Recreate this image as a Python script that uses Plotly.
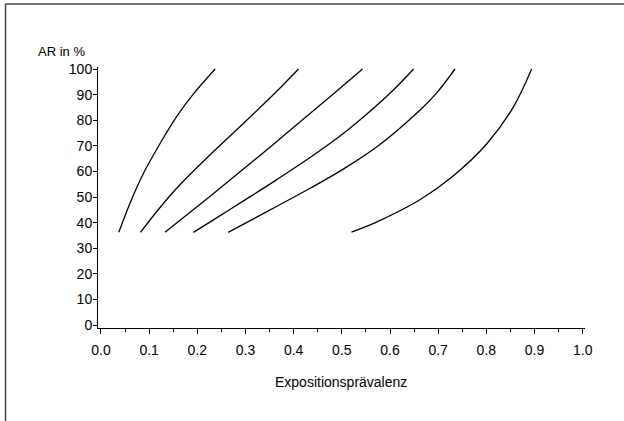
import plotly.graph_objects as go

# ---- data ----
x_tick_values = [0.0, 0.1, 0.2, 0.3, 0.4, 0.5, 0.6, 0.7, 0.8, 0.9, 1.0]
x_tick_labels = ["0.0", "0.1", "0.2", "0.3", "0.4", "0.5", "0.6", "0.7", "0.8", "0.9", "1.0"]
y_tick_values = [0, 10, 20, 30, 40, 50, 60, 70, 80, 90, 100]
y_tick_labels = ["0", "10", "20", "30", "40", "50", "60", "70", "80", "90", "100"]

curve1_x = [0.037, 0.060, 0.088, 0.123, 0.157, 0.192, 0.226, 0.237]
curve1_y = [36.2, 47.5, 59.2, 71.0, 81.4, 90.3, 97.7, 100.0]

curve2_x = [0.082, 0.123, 0.160, 0.226, 0.295, 0.365, 0.410]
curve2_y = [36.2, 46.0, 54.0, 66.4, 78.6, 91.3, 100.0]

curve3_x = [0.133, 0.226, 0.295, 0.365, 0.434, 0.489, 0.543]
curve3_y = [36.2, 50.2, 60.8, 71.7, 82.6, 91.3, 100.0]

curve4_x = [0.192, 0.226, 0.295, 0.365, 0.434, 0.503, 0.552, 0.607, 0.649]
curve4_y = [36.2, 40.2, 48.4, 56.8, 65.4, 74.8, 82.4, 91.8, 100.0]

curve5_x = [0.264, 0.330, 0.434, 0.503, 0.572, 0.662, 0.697, 0.735]
curve5_y = [36.2, 42.8, 53.4, 60.9, 69.5, 83.9, 90.7, 100.0]

curve6_x = [0.520, 0.572, 0.662, 0.731, 0.801, 0.856, 0.894]
curve6_y = [36.3, 40.2, 48.9, 58.2, 70.8, 85.1, 100.0]

y_title = "AR in %"
x_title = "Expositionsprävalenz"

curves = [(curve1_x, curve1_y), (curve2_x, curve2_y), (curve3_x, curve3_y),
          (curve4_x, curve4_y), (curve5_x, curve5_y), (curve6_x, curve6_y)]

# ---- layout geometry (pixels) ----
W, H = 624, 421
ML, MR, MT, MB = 98, 39, 67, 93
PW, PH = W - ML - MR, H - MT - MB


def px_x(px):
    return (px - ML) / PW


def px_y(py):
    return (H - MB - py) / PH


FONT = "Liberation Sans, Arial, Helvetica, sans-serif"

fig = go.Figure()
for cx, cy in curves:
    fig.add_trace(go.Scatter(x=cx, y=cy, mode="lines",
                             line=dict(color="black", width=1.3, shape="spline", smoothing=1.0),
                             showlegend=False, hoverinfo="skip"))

fig.update_layout(
    width=W, height=H,
    margin=dict(l=ML, r=MR, t=MT, b=MB, pad=0),
    paper_bgcolor="white", plot_bgcolor="white",
    font=dict(family=FONT, color="black", size=14),
    showlegend=False,
)

fig.update_xaxes(
    range=[-0.0062, 1.0048], tickmode="array", tickvals=x_tick_values, ticktext=x_tick_labels,
    ticks="outside", ticklen=5, tickwidth=1, tickcolor="black",
    minor=dict(ticks="outside", ticklen=3, tickwidth=1, tickcolor="black", dtick=0.05, tick0=0),
    showline=True, linecolor="black", linewidth=1,
    showgrid=False, zeroline=False,
    tickfont=dict(family=FONT, size=14, color="black"),
    ticklabelstandoff=4,
)
fig.update_yaxes(
    range=[-1.17, 100.78], tickmode="array", tickvals=y_tick_values, ticktext=y_tick_labels,
    ticks="outside", ticklen=4, tickwidth=1, tickcolor="black",
    showline=True, linecolor="black", linewidth=1,
    showgrid=False, zeroline=False,
    tickfont=dict(family=FONT, size=14, color="black"),
    ticklabelstandoff=-2,
)

fig.add_annotation(text=y_title, xref="paper", yref="paper",
                   x=px_x(61.7), y=px_y(52), xanchor="center", yanchor="middle",
                   showarrow=False, font=dict(family=FONT, size=13, color="black"))
fig.add_annotation(text=x_title, xref="paper", yref="paper",
                   x=px_x(341), y=px_y(381.7), xanchor="center", yanchor="middle",
                   showarrow=False, font=dict(family=FONT, size=14, color="black"))

# outer frame fragments (top and left edge of the scanned figure box)
fig.add_shape(type="line", xref="paper", yref="paper",
              x0=px_x(5.5), y0=px_y(4), x1=px_x(624), y1=px_y(4),
              line=dict(color="#444444", width=1.5))
fig.add_shape(type="line", xref="paper", yref="paper",
              x0=px_x(5.5), y0=px_y(4), x1=px_x(5.5), y1=px_y(421),
              line=dict(color="#444444", width=1.5))

fig.write_html("out.html")
